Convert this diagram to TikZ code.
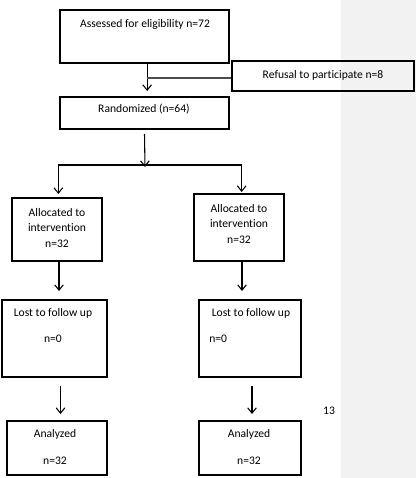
\documentclass[tikz,border=0pt]{standalone}
\usepackage{fontspec}
\setmainfont[Ligatures={NoCommon}]{Carlito}
\usetikzlibrary{arrows.meta,fit}
\begin{document}
\begin{tikzpicture}[x=0.75pt,y=-0.75pt,
  box/.style={draw, line width=1.5pt, inner sep=0pt},
  arr/.style={-{Straight Barb[length=4pt,width=6.5pt]}, line width=0.8pt},
  txt/.style={font=\fontsize{8.7}{10}\selectfont, inner sep=0pt, align=center}]
\useasboundingbox (0,0) rectangle (416,478);
\fill[gray!10] (341,0) rectangle (416,478);
% boxes
\node[box, fit={(60,10) (229,63)}] (assess) {};
\node[box, fit={(232,61) (414,91)}] (refuse) {};
\node[box, fit={(60,97) (229,129)}] (rand) {};
\node[box, fit={(12,198) (102,261)}] (alloc1) {};
\node[box, fit={(194,194) (284,261)}] (alloc2) {};
\node[box, fit={(2,300) (107,377)}] (lost1) {};
\node[box, fit={(199,300) (301,377)}] (lost2) {};
\node[box, fit={(7,421) (107,475)}] (anal1) {};
\node[box, fit={(199,421) (301,475)}] (anal2) {};
% texts
\node[txt] (t1) at (145,24) {Assessed for eligibility n=72};
\node[txt] (t2) at (323,75) {Refusal to participate n=8};
\node[txt] (t3) at (144,109) {Randomized (n=64)};
\node[txt] (t4) at (57,228) {Allocated to\\[1.5pt]intervention\\[1.5pt]n=32};
\node[txt] (t5) at (239,224) {Allocated to\\[1.5pt]intervention\\[1.5pt]n=32};
\node[txt] (t6) at (53,313) {Lost to follow up};
\node[txt] (t7) at (53,339) {n=0};
\node[txt] (t8) at (251,313) {Lost to follow up};
\node[txt, anchor=west] (t9) at (209,339) {n=0};
\node[txt] (t10) at (55,434) {Analyzed};
\node[txt] (t11) at (55,461) {n=32};
\node[txt] (t12) at (249,434) {Analyzed};
\node[txt] (t13) at (249,461) {n=32};
\node[txt] (pg) at (329,411) {13};
% connectors
\coordinate (j1) at (147,78);
\coordinate (split) at (145,165);
\draw[arr, shorten >=3.75pt] ([xshift=2pt]assess.south) -- ([xshift=2pt]rand.north);
\draw[line width=0.8pt, black!70] (refuse.west |- j1) -- (j1);
\draw[arr] ([yshift=-3pt]rand.south) -- ([yshift=-1.5pt]split);
\draw[line width=0.8pt] ([xshift=1pt]alloc1.north |- split) -- ([xshift=2pt]alloc2.north |- split);
\draw[arr, shorten >=2.25pt] ([xshift=1pt]alloc1.north |- split) -- ([xshift=1pt]alloc1.north);
\draw[arr, shorten >=0.75pt] ([xshift=2pt]alloc2.north |- split) -- ([xshift=2pt]alloc2.north);
\draw[arr, shorten >=6pt] ([xshift=1.5pt]alloc1.south) -- ([xshift=1.5pt]alloc1.south |- lost1.north);
\draw[arr, shorten >=6pt] ([xshift=2.25pt]alloc2.south) -- ([xshift=2.25pt]alloc2.south |- lost2.north);
\draw[arr, shorten <=6pt, shorten >=4.5pt] ([xshift=4.5pt]lost1.south) -- ([xshift=4.5pt]lost1.south |- anal1.north);
\draw[arr, shorten <=6pt, shorten >=4.5pt] ([xshift=1.5pt]lost2.south) -- ([xshift=1.5pt]lost2.south |- anal2.north);
\end{tikzpicture}
\end{document}
